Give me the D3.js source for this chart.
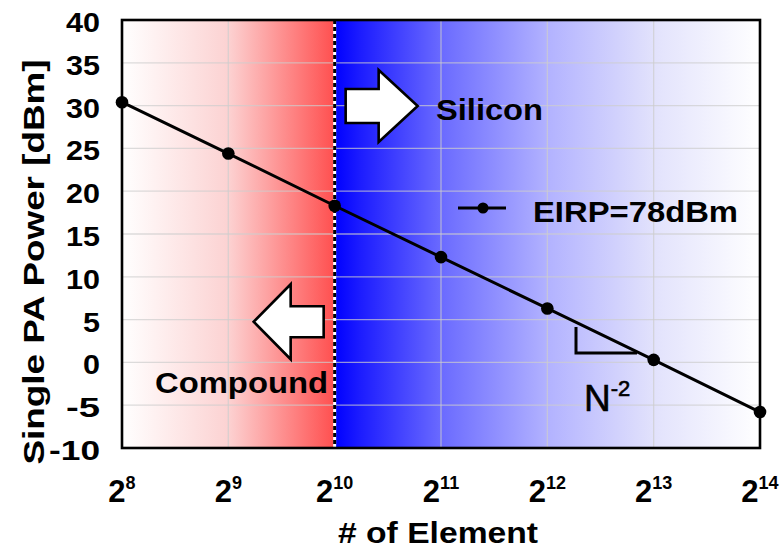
<!DOCTYPE html>
<html>
<head>
<meta charset="utf-8">
<script src="https://cdn.jsdelivr.net/npm/d3@7"></script>
<style>
  html, body { margin: 0; padding: 0; background: #fff; }
  svg { display: block; }
  text { font-family: "Liberation Sans", Arial, sans-serif; fill: #000; }
</style>
</head>
<body>
<svg id="chart" width="780" height="550"></svg>
<script>
// ---- data ----
const elements = [256, 512, 1024, 2048, 4096, 8192, 16384];
const exponents = [8, 9, 10, 11, 12, 13, 14];
const singlePaPower = [30.4, 24.4, 18.3, 12.3, 6.3, 0.3, -5.8];
const yTicks = [40, 35, 30, 25, 20, 15, 10, 5, 0, -5, -10];
const seriesName = "EIRP=78dBm";
const boundaryElements = 1024;
const yTitle = "Single PA Power [dBm]";
const xTitle = "# of Element";

// ---- layout ----
const svg = d3.select("#chart");
const L = 122, R = 760, T = 20, B = 448;

const x = d3.scaleLog().base(2).domain([256, 16384]).range([L, R]);
const y = d3.scaleLinear().domain([-10, 40]).range([B, T]);

const defs = svg.append("defs");
const gRed = defs.append("linearGradient").attr("id", "gRed")
  .attr("x1", "0%").attr("x2", "100%").attr("y1", "0%").attr("y2", "0%");
[[0, "#ffffff"], [0.5, "#fcd2d2"], [1, "#ff4f4f"]].forEach(([o, c]) =>
  gRed.append("stop").attr("offset", o).attr("stop-color", c));
const gBlue = defs.append("linearGradient").attr("id", "gBlue")
  .attr("x1", "0%").attr("x2", "100%").attr("y1", "0%").attr("y2", "0%");
[[0, "#0000ff"], [0.06, "#1c1cff"], [0.25, "#6a6aff"], [0.5, "#b2b2ff"], [0.75, "#e2e2fc"], [1, "#ffffff"]].forEach(([o, c]) =>
  gBlue.append("stop").attr("offset", o).attr("stop-color", c));

const xb = x(boundaryElements);
svg.append("rect").attr("x", L).attr("y", T).attr("width", xb - L).attr("height", B - T).attr("fill", "url(#gRed)");
svg.append("rect").attr("x", xb).attr("y", T).attr("width", R - xb).attr("height", B - T).attr("fill", "url(#gBlue)");

// gridlines
const grid = svg.append("g").attr("stroke", "rgba(205,205,205,0.7)").attr("stroke-width", 1.3);
grid.selectAll("line.h").data(yTicks.filter(v => v > -10 && v < 40)).join("line")
  .attr("x1", L).attr("x2", R).attr("y1", d => y(d)).attr("y2", d => y(d));
grid.selectAll("line.v").data(elements.filter(v => v > 256 && v < 16384 && v !== boundaryElements)).join("line")
  .attr("y1", T).attr("y2", B).attr("x1", d => x(d)).attr("x2", d => x(d));

// boundary dashed line
svg.append("line").attr("x1", xb).attr("x2", xb).attr("y1", T).attr("y2", B)
  .attr("stroke", "#fff").attr("stroke-width", 3);
svg.append("line").attr("x1", xb).attr("x2", xb).attr("y1", T).attr("y2", B)
  .attr("stroke", "#000").attr("stroke-width", 3).attr("stroke-dasharray", "4,3");

// arrows (block arrows)
function blockArrow(tipX, tipY, tailX, headBaseX, shaftHalf, headHalf) {
  return `M${tailX},${tipY - shaftHalf} L${headBaseX},${tipY - shaftHalf} L${headBaseX},${tipY - headHalf} ` +
         `L${tipX},${tipY} L${headBaseX},${tipY + headHalf} L${headBaseX},${tipY + shaftHalf} L${tailX},${tipY + shaftHalf} Z`;
}
const yArrowS = y(29.95), yArrowC = y(4.75);
svg.append("path").attr("d", blockArrow(xb + 83, yArrowS, xb + 11, xb + 44, 17, 36))
  .attr("fill", "#fff").attr("stroke", "#000").attr("stroke-width", 2.6).attr("stroke-linejoin", "miter");
svg.append("path").attr("d", blockArrow(xb - 81, yArrowC, xb - 11, xb - 44, 15.5, 37.5))
  .attr("fill", "#fff").attr("stroke", "#000").attr("stroke-width", 2.6).attr("stroke-linejoin", "miter");

svg.append("text").attr("x", 436).attr("y", 120).attr("font-size", 30).attr("font-weight", "bold")
  .attr("textLength", 107).attr("lengthAdjust", "spacingAndGlyphs").text("Silicon");
svg.append("text").attr("x", 155).attr("y", 393).attr("font-size", 29).attr("font-weight", "bold")
  .attr("textLength", 173).attr("lengthAdjust", "spacingAndGlyphs").text("Compound");

// series line
const line = d3.line().x((d, i) => x(elements[i])).y(d => y(d));
svg.append("path").datum(singlePaPower).attr("d", line)
  .attr("fill", "none").attr("stroke", "#000").attr("stroke-width", 3);
svg.selectAll("circle.pt").data(singlePaPower).join("circle")
  .attr("cx", (d, i) => x(elements[i])).attr("cy", d => y(d)).attr("r", 6.3).attr("fill", "#000");

// slope triangle
svg.append("path").attr("d", "M576,327 V353 H637").attr("fill", "none")
  .attr("stroke", "#000").attr("stroke-width", 3);
const nt = svg.append("text").attr("x", 584).attr("y", 411).attr("font-size", 37)
  .attr("stroke", "#000").attr("stroke-width", 0.6);
nt.append("tspan").text("N");
nt.append("tspan").attr("dy", -15).attr("font-size", 22).text("-2");

// legend
svg.append("line").attr("x1", 458).attr("x2", 506).attr("y1", 208).attr("y2", 208)
  .attr("stroke", "#000").attr("stroke-width", 3);
svg.append("circle").attr("cx", 483).attr("cy", 208).attr("r", 5.5).attr("fill", "#000");
svg.append("text").attr("x", 533).attr("y", 222).attr("font-size", 29).attr("font-weight", "bold")
  .attr("textLength", 205).attr("lengthAdjust", "spacingAndGlyphs").text(seriesName);

// frame
svg.append("rect").attr("x", L).attr("y", T).attr("width", R - L).attr("height", B - T)
  .attr("fill", "none").attr("stroke", "#000").attr("stroke-width", 2.6);

// y tick labels
svg.append("g").selectAll("text").data(yTicks).join("text")
  .attr("x", 100).attr("y", d => y(d) + 12).attr("text-anchor", "end")
  .attr("font-size", 28).attr("font-weight", "bold")
  .attr("textLength", d => String(d).length * 17).attr("lengthAdjust", "spacingAndGlyphs")
  .text(d => d);

// x tick labels (2^n)
const xl = svg.append("g").selectAll("text").data(elements).join("text")
  .attr("x", d => x(d)).attr("y", 502).attr("text-anchor", "middle")
  .attr("font-size", 31).attr("font-weight", "bold");
xl.append("tspan").text("2");
xl.append("tspan").attr("dy", -13).attr("font-size", 18).text((d, i) => exponents[i]);

// axis titles
svg.append("text").attr("transform", `translate(44,${(T + B) / 2 + 28}) rotate(-90)`)
  .attr("text-anchor", "middle").attr("font-size", 30).attr("font-weight", "bold")
  .attr("textLength", 405).attr("lengthAdjust", "spacingAndGlyphs").text(yTitle);
svg.append("text").attr("x", 438).attr("y", 543).attr("text-anchor", "middle")
  .attr("font-size", 29).attr("font-weight", "bold")
  .attr("textLength", 200).attr("lengthAdjust", "spacingAndGlyphs").text(xTitle);
</script>
</body>
</html>
